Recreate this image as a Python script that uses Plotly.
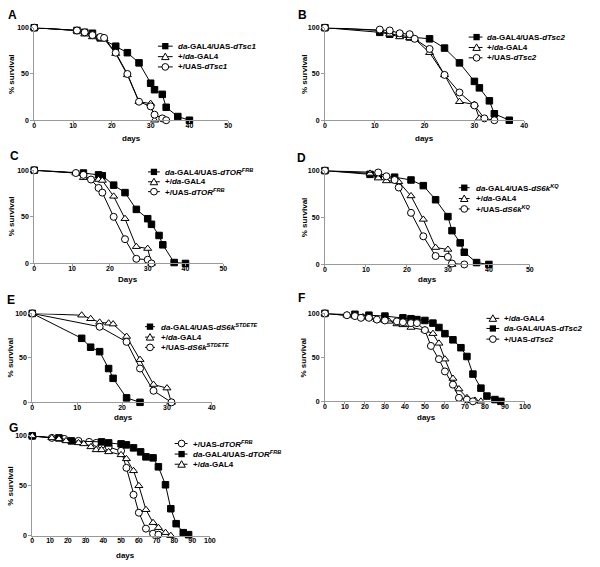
import plotly.graph_objects as go

W, H = 600, 567
FONT = "Arial, Liberation Sans, Helvetica, sans-serif"

# ---------------- data ----------------
A_sq_x = [0, 11, 13, 15, 17, 21, 24, 27, 30, 31, 33, 34, 37, 40]
A_sq_y = [100, 97, 95, 94, 89, 80, 73, 62, 40, 33, 28, 14, 4, 0]
A_tri_x = [0, 11, 13, 15, 17, 18, 21, 24, 27, 30, 31]
A_tri_y = [100, 97, 93, 90, 89, 88, 72, 49, 20, 18, 0]
A_cir_x = [0, 11, 13, 15, 17, 18, 21, 24, 27, 30, 31, 33, 34]
A_cir_y = [100, 97, 95, 92, 90, 89, 73, 50, 20, 15, 6, 2, 0]

B_sq_x = [0, 11, 13, 15, 17, 21, 24, 27, 30, 31, 33, 34, 37]
B_sq_y = [100, 95, 93, 92, 90, 88, 78, 62, 42, 35, 21, 7, 0]
B_tri_x = [0, 11, 13, 15, 17, 18, 21, 24, 27, 30, 31]
B_tri_y = [100, 97, 93, 90, 89, 88, 73, 49, 20, 17, 2]
B_cir_x = [0, 11, 13, 15, 17, 18, 21, 24, 27, 30, 32, 34]
B_cir_y = [100, 98, 97, 94, 93, 88, 77, 49, 30, 16, 2, 0]

C_sq_x = [0, 13, 17, 18, 21, 24, 27, 30, 31, 33, 34, 37, 40]
C_sq_y = [100, 97, 95, 94, 84, 76, 58, 48, 42, 30, 20, 1, 0]
C_tri_x = [0, 11, 13, 17, 18, 21, 24, 27, 30, 31]
C_tri_y = [100, 97, 92, 90, 89, 72, 48, 18, 16, 0]
C_cir_x = [0, 11, 13, 15, 17, 18, 21, 24, 27, 30, 31]
C_cir_y = [100, 97, 95, 90, 81, 76, 50, 26, 5, 4, 0]

D_sq_x = [0, 11, 13, 17, 21, 24, 27, 30, 31, 33, 34, 37, 40]
D_sq_y = [100, 96, 94, 93, 90, 84, 69, 51, 36, 23, 13, 2, 0]
D_tri_x = [0, 11, 13, 15, 17, 18, 21, 24, 27, 30, 31]
D_tri_y = [100, 97, 92, 89, 89, 88, 73, 48, 18, 16, 0]
D_cir_x = [0, 13, 15, 17, 18, 21, 24, 27, 30, 31, 34]
D_cir_y = [100, 98, 94, 90, 82, 55, 30, 9, 8, 1, 0]

E_sq_x = [0, 11, 13, 15, 17, 18, 21, 24]
E_sq_y = [100, 72, 62, 57, 38, 27, 5, 0]
E_tri_x = [0, 11, 13, 15, 17, 18, 21, 24, 27, 30, 31]
E_tri_y = [100, 98, 94, 90, 89, 88, 74, 48, 20, 16, 0]
E_cir_x = [0, 15, 21, 24, 27, 31]
E_cir_y = [100, 85, 68, 38, 13, 0]

F_tri_x = [0, 11, 15, 19, 22, 26, 30, 32, 36, 39, 43, 50, 54, 57, 60, 64, 67, 71, 75, 78]
F_tri_y = [100, 98, 97, 96, 95, 93, 92, 91, 88, 87, 84, 81, 77, 66, 48, 26, 14, 4, 1, 0]
F_sq_x = [0, 15, 22, 30, 39, 43, 46, 50, 54, 57, 60, 64, 68, 71, 74, 78, 81, 85, 88]
F_sq_y = [100, 99, 98, 97, 95, 94, 93, 92, 89, 84, 77, 70, 61, 51, 31, 15, 6, 2, 0]
F_cir_x = [0, 11, 15, 18, 22, 26, 30, 36, 39, 43, 46, 50, 53, 57, 60, 64, 67, 71, 74]
F_cir_y = [100, 98, 97, 95, 95, 93, 92, 91, 90, 89, 89, 81, 63, 48, 34, 19, 4, 2, 0]

G_cir_x = [0, 11, 18, 26, 32, 36, 39, 43, 50, 53, 57, 60, 64, 68, 71]
G_cir_y = [100, 98, 97, 95, 94, 93, 91, 89, 85, 68, 41, 23, 7, 2, 1]
G_sq_x = [0, 15, 22, 39, 43, 50, 53, 57, 61, 64, 68, 71, 75, 78, 81, 85, 88]
G_sq_y = [100, 98, 95, 94, 93, 92, 91, 88, 84, 79, 78, 69, 51, 27, 12, 3, 1]
G_tri_x = [0, 11, 15, 19, 26, 29, 33, 36, 39, 43, 50, 53, 57, 60, 64, 68, 71, 75, 78]
G_tri_y = [100, 98, 97, 95, 93, 92, 89, 86, 86, 84, 81, 77, 65, 50, 26, 13, 8, 3, 0]

X_TICK_STEP = 10
Y_TICKS = [0, 50, 100]

# legend labels
def lab_exp(gene):
    return "<i>da</i>-GAL4/UAS-<i>" + gene + "</i>"
def lab_ctl(gene):
    return "+/UAS-<i>" + gene + "</i>"
L_ctlda = "+/<i>da</i>-GAL4"

STY = {
    "sq": dict(symbol="square", color="black", size=6.5),
    "tri": dict(symbol="triangle-up", color="white", size=7),
    "cir": dict(symbol="circle", color="white", size=7),
}

# panel layout (pixel geometry)
panels = [
    dict(name="A", xmax=50, px=(32.7, 229.3), py=(24, 117.7), xt="days",
         series=[("sq", A_sq_x, A_sq_y, lab_exp("dTsc1")), ("tri", A_tri_x, A_tri_y, L_ctlda),
                 ("cir", A_cir_x, A_cir_y, lab_ctl("dTsc1"))],
         lab=(11, 11), xtpos=(131, 136), ytpos=(9, 71),
         leg=dict(l0=158, l1=173, m=165.5, t=176, rows=[42.7, 53.3, 63.7])),
    dict(name="B", xmax=40, px=(327.3, 529.3), py=(24, 117.7), xt="days",
         series=[("sq", B_sq_x, B_sq_y, lab_exp("dTsc2")), ("tri", B_tri_x, B_tri_y, L_ctlda),
                 ("cir", B_cir_x, B_cir_y, lab_ctl("dTsc2"))],
         lab=(305, 11), xtpos=(428, 136), ytpos=(306, 71),
         leg=dict(l0=473, l1=487, m=481, t=490, rows=[33.5, 44, 54.5])),
    dict(name="C", xmax=50, px=(32.7, 224.3), py=(168.3, 262.7), xt="Days",
         series=[("sq", C_sq_x, C_sq_y, lab_exp("dTOR") + "<sup><i>FRB</i></sup>"),
                 ("tri", C_tri_x, C_tri_y, L_ctlda),
                 ("cir", C_cir_x, C_cir_y, lab_ctl("dTOR") + "<sup><i>FRB</i></sup>")],
         lab=(13, 154), xtpos=(128, 279), ytpos=(9, 215),
         leg=dict(l0=148, l1=160, m=154, t=163, rows=[170, 180, 190])),
    dict(name="D", xmax=50, px=(327.3, 535), py=(168.7, 263.7), xt="days",
         series=[("sq", D_sq_x, D_sq_y, lab_exp("dS6k") + "<sup><i>KQ</i></sup>"),
                 ("tri", D_tri_x, D_tri_y, L_ctlda),
                 ("cir", D_cir_x, D_cir_y, lab_ctl("dS6k") + "<sup><i>KQ</i></sup>")],
         lab=(304, 156), xtpos=(431, 279), ytpos=(306, 216),
         leg=dict(l0=463, l1=474, m=468.5, t=478, rows=[186, 197, 207.5])),
    dict(name="E", xmax=40, px=(30.7, 212.7), py=(313.3, 403.3), xt="days",
         series=[("sq", E_sq_x, E_sq_y, lab_exp("dS6k") + "<sup><i>STDETE</i></sup>"),
                 ("tri", E_tri_x, E_tri_y, L_ctlda),
                 ("cir", E_cir_x, E_cir_y, lab_ctl("dS6k") + "<sup><i>STDETE</i></sup>")],
         lab=(9, 300), xtpos=(123, 419), ytpos=(9, 358),
         leg=dict(l0=145, l1=155, m=150, t=159, rows=[326.7, 337.3, 347.7])),
    dict(name="F", xmax=100, px=(327.3, 530), py=(313.3, 402.3), xt="days",
         series=[("tri", F_tri_x, F_tri_y, L_ctlda), ("sq", F_sq_x, F_sq_y, lab_exp("dTsc2")),
                 ("cir", F_cir_x, F_cir_y, lab_ctl("dTsc2"))],
         lab=(304, 298), xtpos=(430, 419), ytpos=(306, 358),
         leg=dict(l0=491, l1=504, m=497.5, t=507, rows=[318.3, 328.5, 339.3])),
    dict(name="G", xmax=100, px=(30.7, 210.7), py=(437.3, 538.3), xt="days",
         series=[("cir", G_cir_x, G_cir_y, lab_ctl("dTOR") + "<sup><i>FRB</i></sup>"),
                 ("sq", G_sq_x, G_sq_y, lab_exp("dTOR") + "<sup><i>FRB</i></sup>"),
                 ("tri", G_tri_x, G_tri_y, L_ctlda)],
         lab=(12, 429), xtpos=(125, 558), ytpos=(9, 488),
         leg=dict(l0=175, l1=188, m=182, t=192, rows=[445, 455.7, 466])),
]

def fx(x):
    return x / W

def fy(y):
    return 1 - y / H

fig = go.Figure()
layout = dict(width=W, height=H, autosize=False, margin=dict(l=0, r=0, t=0, b=0),
              paper_bgcolor="white", plot_bgcolor="white", showlegend=False,
              font=dict(family=FONT, color="black"))
shapes = []
annotations = []

AXCOL = "#9a9a9a"

for i, p in enumerate(panels):
    n = "" if i == 0 else str(i + 1)
    xa, ya = "xaxis" + n, "yaxis" + n
    layout[xa] = dict(domain=[fx(p["px"][0]), fx(p["px"][1])], range=[0, p["xmax"]],
                      anchor="y" + n, tickmode="linear", tick0=0, dtick=X_TICK_STEP,
                      showgrid=False, zeroline=False, showline=True, linecolor=AXCOL, linewidth=1,
                      ticks="outside", ticklen=2, tickcolor=AXCOL, tickwidth=1, ticklabelstandoff=-4,
                      tickfont=dict(size=7, weight="bold", family=FONT, color="black"), fixedrange=True)
    layout[ya] = dict(domain=[fy(p["py"][1]), fy(p["py"][0])], range=[0, 100],
                      anchor="x" + n, tickmode="array", tickvals=Y_TICKS,
                      showgrid=False, zeroline=False, showline=True, linecolor=AXCOL, linewidth=1,
                      ticks="outside", ticklen=3, tickcolor=AXCOL, tickwidth=1,
                      tickfont=dict(size=7, weight="bold", family=FONT, color="black"), fixedrange=True)
    for kind, xs, ys, lab in p["series"]:
        s = STY[kind]
        fig.add_trace(go.Scatter(x=xs, y=ys, mode="lines+markers", xaxis="x" + n, yaxis="y" + n,
                                 line=dict(color="black", width=1), cliponaxis=False, name=lab,
                                 marker=dict(symbol=s["symbol"], size=s["size"], color=s["color"],
                                             line=dict(color="black", width=1))))
    # panel letter and axis titles
    annotations.append(dict(text="<b>" + p["name"] + "</b>", x=fx(p["lab"][0]), y=fy(p["lab"][1]),
                            xref="paper", yref="paper", showarrow=False, xanchor="center", yanchor="middle",
                            font=dict(size=12, family=FONT)))
    annotations.append(dict(text="<b>" + p["xt"] + "</b>", x=fx(p["xtpos"][0]), y=fy(p["xtpos"][1]),
                            xref="paper", yref="paper", showarrow=False, xanchor="center", yanchor="middle",
                            font=dict(size=8, family=FONT)))
    annotations.append(dict(text="<b>% survival</b>", x=fx(p["ytpos"][0]), y=fy(p["ytpos"][1]),
                            xref="paper", yref="paper", showarrow=False, xanchor="center", yanchor="middle",
                            textangle=-90, font=dict(size=8, family=FONT)))
    # legend (key line + symbol + label)
    lg = p["leg"]
    for (kind, xs, ys, lab), ry in zip(p["series"], lg["rows"]):
        shapes.append(dict(type="line", xref="paper", yref="paper", x0=fx(lg["l0"]), x1=fx(lg["l1"]),
                           y0=fy(ry), y1=fy(ry), line=dict(color="black", width=1)))
        cx, cy = lg["m"], ry
        if kind == "sq":
            shapes.append(dict(type="rect", xref="paper", yref="paper", x0=fx(cx - 3.2), x1=fx(cx + 3.2),
                               y0=fy(cy + 3.2), y1=fy(cy - 3.2), fillcolor="black", line=dict(width=0)))
        elif kind == "cir":
            shapes.append(dict(type="circle", xref="paper", yref="paper", x0=fx(cx - 3.4), x1=fx(cx + 3.4),
                               y0=fy(cy + 3.4), y1=fy(cy - 3.4), fillcolor="white",
                               line=dict(color="black", width=1)))
        else:
            path = "M %f,%f L %f,%f L %f,%f Z" % (fx(cx), fy(cy - 3.6), fx(cx + 3.8), fy(cy + 3),
                                                  fx(cx - 3.8), fy(cy + 3))
            shapes.append(dict(type="path", xref="paper", yref="paper", path=path, fillcolor="white",
                               line=dict(color="black", width=1)))
        annotations.append(dict(text="<b>" + lab + "</b>", x=fx(lg["t"]), y=fy(ry), xref="paper",
                                yref="paper", showarrow=False, xanchor="left", yanchor="middle",
                                font=dict(size=8, family=FONT)))

layout["shapes"] = shapes
layout["annotations"] = annotations
fig.update_layout(**layout)
fig.write_html("out.html", config={"displayModeBar": False},
               post_script="document.body.style.margin='0px';document.body.style.padding='0px';")
